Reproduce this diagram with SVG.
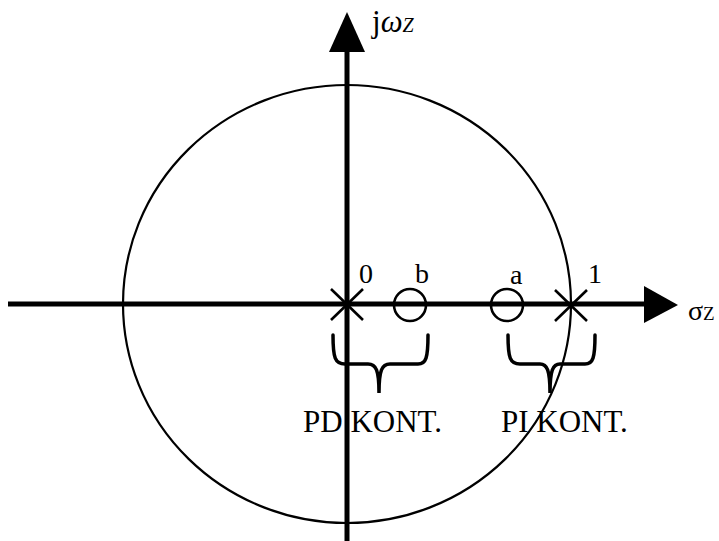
<svg xmlns="http://www.w3.org/2000/svg" width="719" height="541" viewBox="0 0 719 541">
<style>
.txt{font-family:"Liberation Serif","Times New Roman",serif;fill:#000}
.ax{stroke:#000;stroke-width:5;fill:none}
.thin{stroke:#000;stroke-width:2.2;fill:none}
.mark{stroke:#000;stroke-width:2.6;fill:none}
.brace{stroke:#000;stroke-width:3.5;fill:none;stroke-linecap:round}
</style>
<rect width="719" height="541" fill="#fff"/>
<g id="circle"><ellipse cx="347" cy="304" rx="224" ry="219" class="thin"/></g>
<g id="connectors">
<line x1="8" y1="304" x2="646" y2="304" class="ax"/>
<polygon points="644,286 678,305 644,323" fill="#000"/>
<line x1="347" y1="541" x2="347" y2="48" class="ax"/>
<polygon points="329,52 347,12 365,52" fill="#000"/>
</g>
<g id="axis-labels">
<text class="txt" x="372" y="32" font-size="31">j<tspan font-style="italic">ω</tspan><tspan font-size="20" font-style="italic">Z</tspan></text>
<text class="txt" x="688" y="320" font-size="28">σ<tspan font-size="19">Z</tspan></text>
</g>
<g id="pole0"><path d="M331,289 L363,320 M331,320 L363,289" class="mark"/><text class="txt" x="359" y="283" font-size="28">0</text></g>
<g id="zero-b"><circle cx="410" cy="305" r="16" class="mark"/><text class="txt" x="415" y="283" font-size="28">b</text></g>
<g id="zero-a"><circle cx="507" cy="305" r="16" class="mark"/><text class="txt" x="510" y="284" font-size="28">a</text></g>
<g id="pole1"><path d="M555,290 L587,321 M555,321 L587,290" class="mark"/><text class="txt" x="588" y="283" font-size="28">1</text></g>
<g id="pd-brace"><path d="M333,335 C333,358 335,364 345,364 L368,364 C376,364 379,370 379,393 C379,370 382,364 390,364 L418,364 C426,364 428,358 428,335" class="brace"/>
<text class="txt" x="303" y="432" font-size="31">PD KONT.</text></g>
<g id="pi-brace"><path d="M508,335 C508,358 510,364 520,364 L540,364 C547,364 550,370 550,393 C550,370 553,364 560,364 L585,364 C593,364 595,358 595,335" class="brace"/>
<text class="txt" x="501" y="432" font-size="31">PI KONT.</text></g>
</svg>
